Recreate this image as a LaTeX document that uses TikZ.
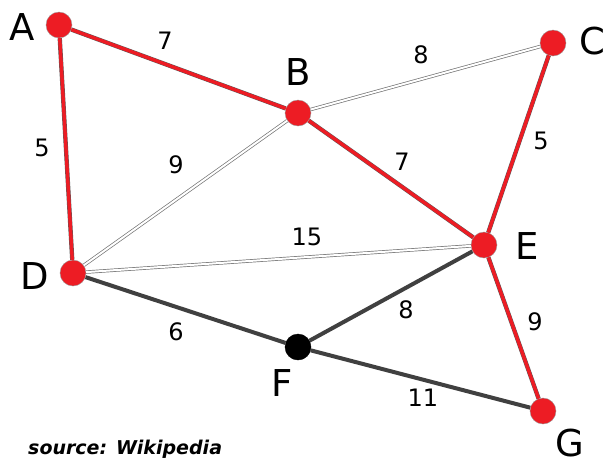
\documentclass[tikz,border=0pt]{standalone}
\usepackage{fontspec}
\setmainfont{DejaVu Sans}
\begin{document}
\begin{tikzpicture}[x=1pt,y=-1pt,
  vtx/.style={circle,fill=vred,draw=black!40,line width=0.4pt,minimum size=26pt,inner sep=0pt},
  vblk/.style={vtx,fill=black,draw=black},
  lbl/.style={font=\fontsize{37}{37}\selectfont,inner sep=0pt},
  wt/.style={font=\fontsize{24}{24}\selectfont,inner sep=0pt},
  redge/.style={draw=black!65,double=vred,double distance=3.4pt,line width=0.45pt},
  gedge/.style={draw=black!75,line width=4pt},
  wedge/.style={draw=black!55,double=white,double distance=2pt,line width=0.7pt}]
\definecolor{vred}{HTML}{ED1C24}
\useasboundingbox (0,0) rectangle (608,464);
\node[vtx] (A) at (59,25) {};
\node[vtx] (B) at (298,113) {};
\node[vtx] (C) at (553,43) {};
\node[vtx] (D) at (73,273) {};
\node[vtx] (E) at (484,245) {};
\node[vblk] (F) at (298,347) {};
\node[vtx] (G) at (543,411) {};
\draw[wedge] (B) -- (C);
\draw[wedge] (B) -- (D);
\draw[wedge] (D) -- (E);
\draw[gedge] (D) -- (F);
\draw[gedge] (F) -- (E);
\draw[gedge] (F) -- (G);
\draw[redge] (A) -- (B);
\draw[redge] (A) -- (D);
\draw[redge] (B) -- (E);
\draw[redge] (C) -- (E);
\draw[redge] (E) -- (G);
\node[lbl] (lA) at (22,27) {A};
\node[lbl] (lB) at (298,72) {B};
\node[lbl] (lC) at (592,41) {C};
\node[lbl] (lD) at (35,276) {D};
\node[lbl] (lE) at (527,246) {E};
\node[lbl] (lF) at (282,383) {F};
\node[lbl] (lG) at (570,443) {G};
\node[wt] (wAB) at (165,41) {7};
\node[wt] (wBC) at (421,55) {8};
\node[wt] (wAD) at (42,148) {5};
\node[wt] (wBD) at (176,165) {9};
\node[wt] (wBE) at (402,162) {7};
\node[wt] (wCE) at (541,141) {5};
\node[wt] (wDE) at (307,237) {15};
\node[wt] (wDF) at (176,332) {6};
\node[wt] (wFE) at (406,310) {8};
\node[wt] (wEG) at (535,322) {9};
\node[wt] (wFG) at (423,398) {11};
\node[anchor=west,inner sep=0pt,font=\fontsize{19}{19}\selectfont\bfseries\itshape] (src) at (28,449) {source: Wikipedia};
\end{tikzpicture}
\end{document}
